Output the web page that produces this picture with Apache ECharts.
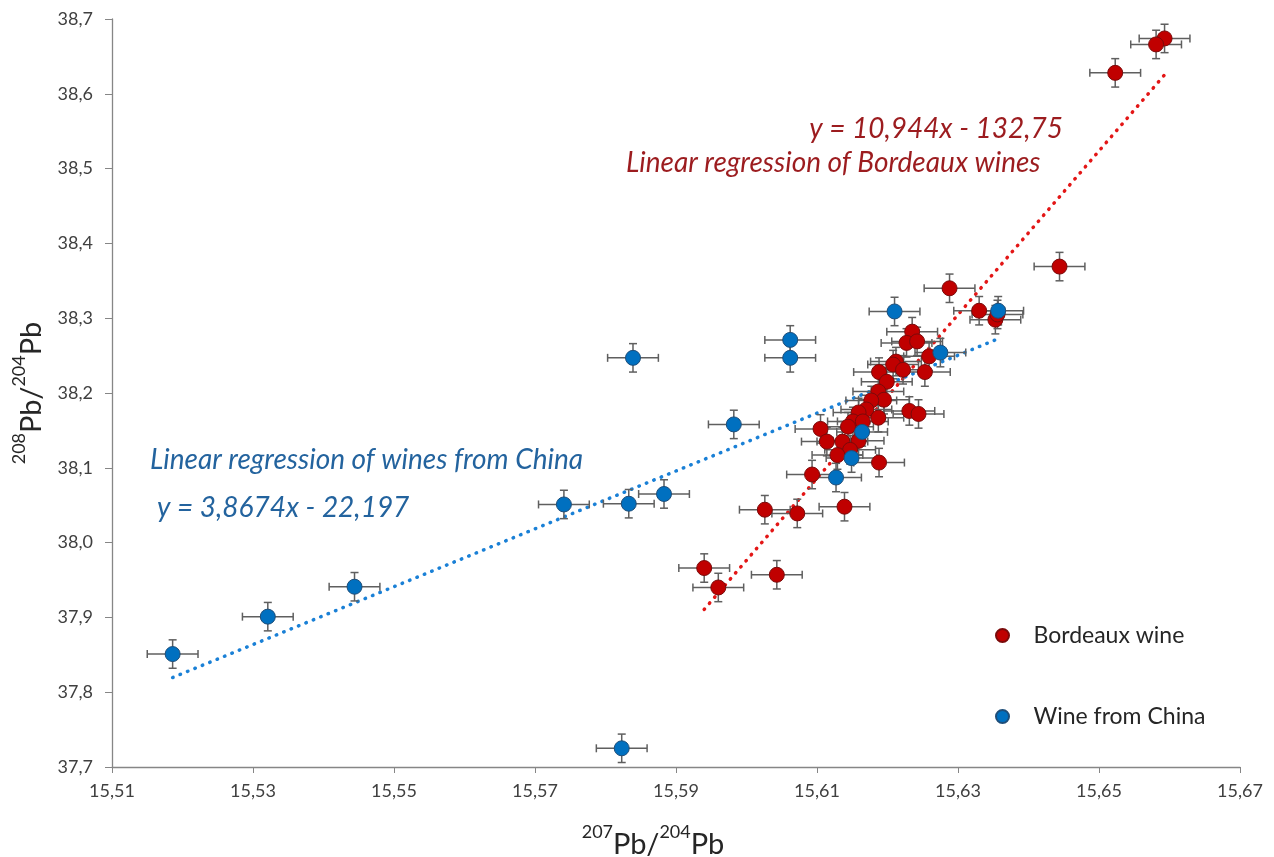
<!DOCTYPE html>
<html>
<head>
<meta charset="utf-8">
<script src="https://cdn.jsdelivr.net/npm/echarts@6/dist/echarts.min.js"></script>
<style>html,body{margin:0;padding:0;background:#fff}#c{width:1274px;height:857px}</style>
</head>
<body>
<div id="c"></div>
<script>
// Bordeaux wine: 207Pb/204Pb (x) and 208Pb/204Pb (y)
const bordeauxX = [15.6593,15.6581,15.6523,15.6444,15.6288,15.6330,15.6353,15.6356,15.6235,15.6227,
  15.6242,15.6259,15.6253,15.6212,15.6208,15.6222,15.6188,15.6199,15.6187,15.6195,
  15.6177,15.6170,15.6159,15.6187,15.6231,15.6244,15.6151,15.6165,15.6144,15.6159,
  15.6105,15.6114,15.6136,15.6147,15.6129,15.6188,15.6093,15.6026,15.6072,15.6139,
  15.5940,15.5960,15.6043];
const bordeauxY = [38.674,38.666,38.628,38.369,38.340,38.310,38.298,38.305,38.282,38.267,
  38.269,38.249,38.228,38.242,38.238,38.231,38.228,38.215,38.202,38.191,
  38.190,38.178,38.174,38.167,38.176,38.172,38.162,38.162,38.155,38.136,
  38.152,38.135,38.135,38.124,38.117,38.107,38.091,38.044,38.039,38.048,
  37.966,37.940,37.957];
// Wine from China
const chinaX = [15.5186,15.5321,15.5444,15.5741,15.5833,15.5883,15.5823,15.5839,15.5982,15.6062,
  15.6062,15.6210,15.6357,15.6275,15.6127,15.6149,15.6164];
const chinaY = [37.851,37.901,37.941,38.051,38.052,38.065,37.725,38.247,38.158,38.271,
  38.247,38.309,38.310,38.254,38.087,38.113,38.148];
// measurement uncertainty (error bars)
const xErr = 0.0036;
const yErr = 0.019;
// regression lines [slope, intercept]
const bordeauxFit = [10.944, -132.75];
const chinaFit = [3.8674, -22.197];
// axes
const xAxisMin = 15.51, xAxisMax = 15.67, xAxisStep = 0.02;
const yAxisMin = 37.7, yAxisMax = 38.7, yAxisStep = 0.1;
const seriesNames = ['Bordeaux wine', 'Wine from China'];
const labels = {
  bordeauxEq: 'y = 10,944x - 132,75',
  bordeauxTitle: 'Linear regression of Bordeaux wines',
  chinaTitle: 'Linear regression of wines from China',
  chinaEq: 'y = 3,8674x - 22,197'
};

const FONT = 'Lato, "Open Sans", sans-serif';
const pts = (xs, ys) => xs.map((x, i) => [x, ys[i]]);
const fitLine = (xs, fit) => {
  const lo = Math.min(...xs), hi = Math.max(...xs);
  return [[lo, fit[0] * lo + fit[1]], [hi, fit[0] * hi + fit[1]]];
};
function errBars(params, api) {
  const x = api.value(0), y = api.value(1);
  const l = api.coord([x - xErr, y]), r = api.coord([x + xErr, y]);
  const t = api.coord([x, y + yErr]), b = api.coord([x, y - yErr]);
  const cap = 4;
  const st = { stroke: '#5f5f5f', lineWidth: 1.5 };
  const ln = (x1, y1, x2, y2) => ({ type: 'line', shape: { x1, y1, x2, y2 }, style: st });
  return { type: 'group', children: [
    ln(l[0], l[1], r[0], r[1]),
    ln(l[0], l[1] - cap, l[0], l[1] + cap),
    ln(r[0], r[1] - cap, r[0], r[1] + cap),
    ln(t[0], t[1], b[0], b[1]),
    ln(t[0] - cap, t[1], t[0] + cap, t[1]),
    ln(b[0] - cap, b[1], b[0] + cap, b[1])
  ]};
}

const chart = echarts.init(document.getElementById('c'), null, { renderer: 'canvas' });
const axisLine = { show: true, lineStyle: { color: '#868686', width: 1.3 } };
const titleRich = {
  b: { fontSize: 29, fontFamily: FONT, color: '#262626', lineHeight: 36, verticalAlign: 'bottom' },
  s: { fontSize: 18, fontFamily: FONT, color: '#262626', lineHeight: 36, verticalAlign: 'top', padding: [0, 0, 10, 0] }
};
const annot = (txt, x, y, align, color) => ({
  type: 'text', x, y, silent: true,
  style: { text: txt, fill: color, font: 'italic 28px ' + FONT, align, verticalAlign: 'middle' }
});
chart.setOption({
  animation: false,
  backgroundColor: '#fff',
  grid: { left: 112, right: 34, top: 19, bottom: 90, containLabel: false, outerBoundsMode: 'none' },
  xAxis: {
    type: 'value', min: xAxisMin, max: xAxisMax, interval: xAxisStep,
    axisLine, splitLine: { show: false },
    axisTick: { show: true, length: 6, lineStyle: { color: '#868686' } },
    axisLabel: { fontSize: 18, fontFamily: FONT, color: '#404040', margin: 15,
      formatter: v => v.toFixed(2).replace('.', ',') },
    name: '{s|207}{b|Pb/}{s|204}{b|Pb}', nameLocation: 'middle', nameGap: 56,
    nameTextStyle: { rich: titleRich, padding: [0, 46, 0, 0] }
  },
  yAxis: {
    type: 'value', min: yAxisMin, max: yAxisMax, interval: yAxisStep,
    axisLine, splitLine: { show: false },
    axisTick: { show: true, length: 7, lineStyle: { color: '#868686' } },
    axisLabel: { fontSize: 18, fontFamily: FONT, color: '#404040', margin: 19,
      formatter: v => v.toFixed(1).replace('.', ',') },
    name: '{s|208}{b|Pb/}{s|204}{b|Pb}', nameLocation: 'middle', nameGap: 66,
    nameTextStyle: { rich: titleRich }
  },
  legend: {
    orient: 'vertical', left: 990, top: 619, itemGap: 58,
    itemWidth: 52, itemHeight: 13, icon: 'circle',
    data: seriesNames,
    textStyle: { fontSize: 23, fontFamily: FONT, color: '#262626' }
  },
  series: [
    { type: 'line', data: fitLine(bordeauxX, bordeauxFit), showSymbol: false, symbol: 'none',
      lineStyle: { color: '#E31616', width: 3.5, type: [0.5, 7.5], cap: 'round' }, z: 1, silent: true },
    { type: 'line', data: fitLine(chinaX, chinaFit), showSymbol: false, symbol: 'none',
      lineStyle: { color: '#1A80D6', width: 3.5, type: [0.5, 7.5], cap: 'round' }, z: 1, silent: true },
    { type: 'custom', renderItem: errBars, data: pts(bordeauxX, bordeauxY), encode: { x: 0, y: 1 }, z: 2, silent: true },
    { type: 'custom', renderItem: errBars, data: pts(chinaX, chinaY), encode: { x: 0, y: 1 }, z: 2, silent: true },
    { name: seriesNames[0], type: 'scatter', data: pts(bordeauxX, bordeauxY), symbolSize: 15, z: 3,
      itemStyle: { color: '#C00000', borderColor: '#7A0A0A', borderWidth: 1, opacity: 1 } },
    { name: seriesNames[1], type: 'scatter', data: pts(chinaX, chinaY), symbolSize: 15, z: 4,
      itemStyle: { color: '#0070C0', borderColor: '#1F4E79', borderWidth: 1, opacity: 1 } }
  ],
  graphic: [
    annot(labels.bordeauxEq, 1063, 129, 'right', '#9C1C1F'),
    annot(labels.bordeauxTitle, 626, 163, 'left', '#9C1C1F'),
    annot(labels.chinaTitle, 150, 460, 'left', '#23639E'),
    annot(labels.chinaEq, 157, 508, 'left', '#23639E')
  ]
});
</script>
</body>
</html>
